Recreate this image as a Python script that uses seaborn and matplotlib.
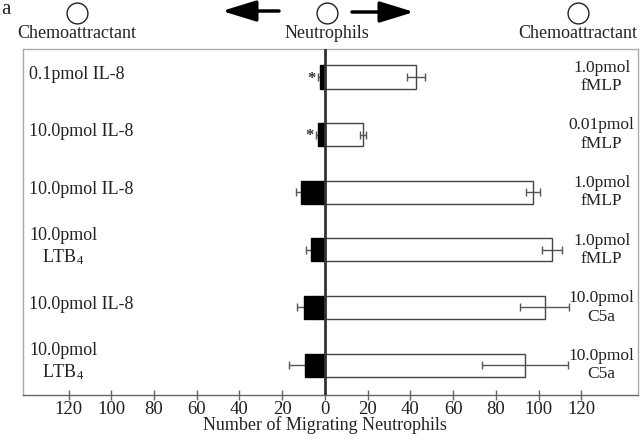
import numpy as np
import pandas as pd
import seaborn as sns
import matplotlib.pyplot as plt
from matplotlib.lines import Line2D
from matplotlib.patches import FancyArrowPatch

# chemoattractant on the left / right side of each chamber
left_labels = ['0.1pmol IL-8', '10.0pmol IL-8', '10.0pmol IL-8',
               '10.0pmol\nLTB$_4$', '10.0pmol IL-8', '10.0pmol\nLTB$_4$']
right_labels = ['1.0pmol\nfMLP', '0.01pmol\nfMLP', '1.0pmol\nfMLP',
                '1.0pmol\nfMLP', '10.0pmol\nC5a', '10.0pmol\nC5a']

# migrating neutrophils toward the left / right chemoattractant
left_vals = [2.3, 3.3, 11.2, 6.7, 9.7, 9.3]
left_err = [1.0, 1.0, 2.4, 2.3, 3.2, 7.4]
right_vals = [42.6, 17.9, 97.4, 106.2, 102.8, 93.6]
right_err = [4.2, 1.5, 3.3, 4.7, 11.4, 20.3]
significant = [True, True, False, False, False, False]

x_ticks = [-120, -100, -80, -60, -40, -20, 0, 20, 40, 60, 80, 100, 120]

rows = [f'row{i}' for i in range(len(left_labels))]
df = pd.DataFrame({'row': rows,
                   'left': -np.array(left_vals),
                   'right': np.array(right_vals)})

sns.set_style('white')
plt.rcParams['font.family'] = ['Liberation Serif', 'DejaVu Serif']
plt.rcParams['mathtext.fontset'] = 'custom'
plt.rcParams['mathtext.rm'] = 'Liberation Serif'
plt.rcParams['mathtext.it'] = 'Liberation Serif:italic'
fs = 13

fig = plt.figure(figsize=(6.4, 4.4), dpi=100)
ax = fig.add_axes([23 / 640, 45 / 440, 615 / 640, 346 / 440])

sns.barplot(data=df, x='left', y='row', order=rows, orient='h', color='black',
            saturation=1, width=0.4, errorbar=None, edgecolor='black',
            linewidth=1, ax=ax)
sns.barplot(data=df, x='right', y='row', order=rows, orient='h', color='white',
            saturation=1, width=0.4, errorbar=None, edgecolor='#444444',
            linewidth=1, ax=ax)

ypos = np.arange(len(rows))
ax.errorbar(df['left'], ypos, xerr=left_err, fmt='none', ecolor='#555555',
            elinewidth=1, capsize=3, zorder=0.5)
ax.errorbar(df['right'], ypos, xerr=right_err, fmt='none', ecolor='#555555',
            elinewidth=1, capsize=3, zorder=3)

for i, sig in enumerate(significant):
    if sig:
        ax.text(-left_vals[i] - left_err[i] - 1.0, i + 0.03, '*', ha='right',
                va='center', fontsize=12, fontweight='bold', color='#333333')

for i, lab in enumerate(left_labels):
    ax.text(-138.5, i - 0.05, lab, ha='left', va='center',
            multialignment='center', fontsize=fs, color='#222222')
for i, lab in enumerate(right_labels):
    ax.text(129.5, i, lab, ha='center', va='center',
            multialignment='center', fontsize=12.5, color='#222222')

ax.axvline(0, color='#333333', lw=2, zorder=4)

ax.set_xlim(-141.3, 146.5)
ax.set_ylim(5.52, -0.486)
ax.set_xticks(x_ticks)
ax.set_xticklabels([str(abs(t)) for t in x_ticks], fontsize=13.5, color='#222222')
ax.set_yticks([])
ax.set_ylabel('')
ax.set_xlabel('Number of Migrating Neutrophils', fontsize=fs, color='#222222')
ax.xaxis.set_label_coords(0.491, -0.062)
ax.tick_params(axis='x', direction='inout', length=7, width=1,
               color='#666666', pad=1, bottom=True)

for side in ['top', 'left', 'right']:
    ax.spines[side].set_color('#aaaaaa')
    ax.spines[side].set_linewidth(1)
ax.spines['bottom'].set_color('#666666')
ax.spines['bottom'].set_linewidth(1)


def fx(px):
    return px / 640


def fy(py):
    return 1 - py / 440


# header above the plot
fig.text(fx(1), fy(10), 'a', ha='left', va='center', fontsize=15, color='#222222')
for cx, name in [(77, 'Chemoattractant'), (327, 'Neutrophils'),
                 (578, 'Chemoattractant')]:
    fig.add_artist(Line2D([fx(cx)], [fy(13)], marker='o', markersize=15,
                          markerfacecolor='none', markeredgecolor='#222222',
                          markeredgewidth=1, transform=fig.transFigure))
    fig.text(fx(cx), fy(33), name, ha='center', va='center', fontsize=fs,
             color='#222222')

for tail, head in [((279, 11), (222, 11)), ((352, 12), (414, 12))]:
    fig.add_artist(FancyArrowPatch((fx(tail[0]), fy(tail[1])),
                                   (fx(head[0]), fy(head[1])),
                                   transform=fig.transFigure,
                                   arrowstyle='-|>,head_length=1.3,head_width=0.4',
                                   mutation_scale=16, lw=2.5, color='black',
                                   shrinkA=0, shrinkB=0))

fig.savefig('out.png', dpi=100)
